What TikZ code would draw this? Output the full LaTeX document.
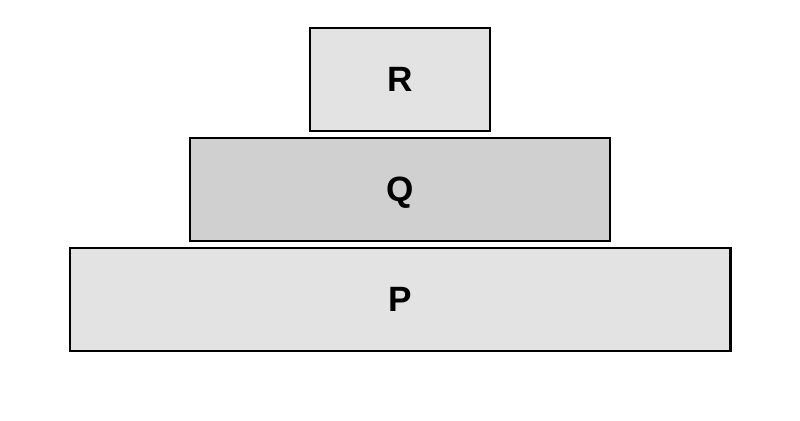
\documentclass[tikz,border=0pt]{standalone}
\usepackage{fontspec}
\setmainfont{Liberation Sans}
\definecolor{lightblock}{HTML}{E3E3E3}
\definecolor{darkblock}{HTML}{D0D0D0}
\begin{document}
\begin{tikzpicture}[x=0.025cm, y=-0.025cm,
    block/.style={draw, line width=2pt, inner sep=0pt, text depth=0pt, font=\fontsize{25}{28}\selectfont\bfseries}]
        \useasboundingbox (0,0) rectangle (800,420);

        \node[block, fill=lightblock, minimum width=4.5cm, minimum height=2.575cm] (R) at (400, 79.5) {R};
        \node[block, fill=darkblock, minimum width=10.5cm, minimum height=2.575cm] (Q) at (400, 189.5) {Q};
        \node[block, fill=lightblock, minimum width=16.5cm, minimum height=2.575cm] (P) at (400, 299.5) {P};
    \end{tikzpicture}
\end{document}
